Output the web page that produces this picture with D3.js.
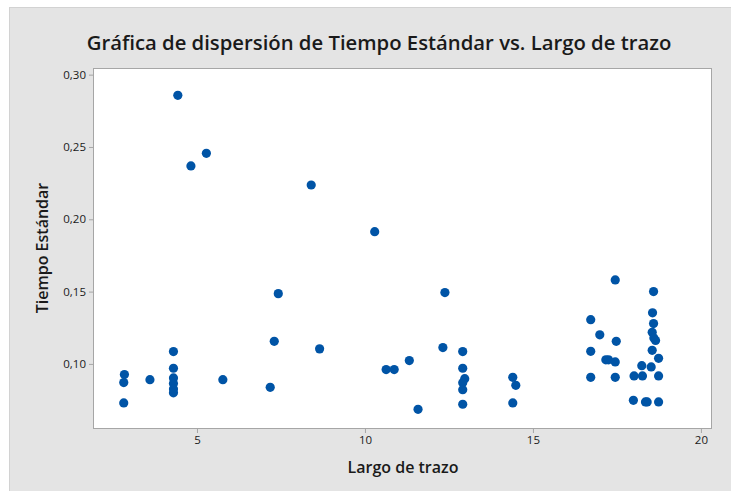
<!DOCTYPE html>
<html>
<head>
<meta charset="utf-8">
<script src="https://cdn.jsdelivr.net/npm/d3@7"></script>
<style>
  body { margin: 0; background: #ffffff; }
  svg { display: block; font-family: "Open Sans", "Noto Sans", sans-serif; }
</style>
</head>
<body>
<svg></svg>
<script>
var screen = {width: 731, height: 491}
var margins = {top: 68, right: 19, bottom: 62, left: 93}

// Largo de trazo (x) and Tiempo Estándar (y)
var largo = [2.84, 2.82, 2.82, 3.60, 4.30, 4.30, 4.30, 4.30, 4.30, 4.30,
             4.43, 4.82, 5.28, 5.77, 7.18, 7.30, 7.42, 8.40, 8.65, 10.29,
             10.63, 10.87, 11.32, 11.58, 12.32, 12.38, 12.91, 12.91, 12.97, 12.91,
             12.91, 12.91, 14.40, 14.49, 14.40,
             16.72, 16.72, 16.72, 16.99, 17.17, 17.25, 17.45, 17.48, 17.45, 17.45,
             17.99, 18.01, 18.24, 18.26, 18.35, 18.40, 18.52, 18.55, 18.56, 18.59,
             18.59, 18.55, 18.60, 18.65, 18.74, 18.74, 18.74]
var tiempo = [0.0926, 0.0871, 0.0730, 0.0891, 0.1085, 0.0970, 0.0903, 0.0864, 0.0827, 0.0800,
              0.2857, 0.2369, 0.2456, 0.0891, 0.0838, 0.1156, 0.1486, 0.2237, 0.1104, 0.1914,
              0.0961, 0.0961, 0.1023, 0.0686, 0.1113, 0.1493, 0.1085, 0.0970, 0.0898, 0.0869,
              0.0822, 0.0721, 0.0907, 0.0852, 0.0730,
              0.1306, 0.1087, 0.0907, 0.1201, 0.1028, 0.1028, 0.1581, 0.1156, 0.1014, 0.0907,
              0.0748, 0.0917, 0.0988, 0.0917, 0.0737, 0.0737, 0.0979, 0.1094, 0.1353, 0.1500,
              0.1279, 0.1219, 0.1180, 0.1162, 0.1039, 0.0917, 0.0737]

var xTicks = [5, 10, 15, 20]
var yTicks = [0.10, 0.15, 0.20, 0.25, 0.30]

var title = "Gráfica de dispersión de Tiempo Estándar vs. Largo de trazo"
var xTitle = "Largo de trazo"
var yTitle = "Tiempo Estándar"

var points = largo.map(function(d, i) { return {x: d, y: tiempo[i]} })

var width = screen.width - margins.left - margins.right
var height = screen.height - margins.top - margins.bottom

var svg = d3.select("svg")
    .attr("width", screen.width)
    .attr("height", screen.height)

// grey panel
svg.append("rect")
    .attr("x", 9.5).attr("y", 7.5)
    .attr("width", screen.width).attr("height", screen.height)
    .attr("fill", "#e4e4e4")
    .attr("stroke", "#d2d2d2")

svg.append("text")
    .attr("x", 379)
    .attr("y", 50)
    .attr("text-anchor", "middle")
    .attr("font-size", 20.3)
    .attr("font-weight", 600)
    .attr("fill", "#1a1a1a")
    .text(title)

var es = d3.formatLocale({decimal: ",", thousands: ".", grouping: [3], currency: ["", "€"]})

var xScale = d3.scaleLinear()
    .domain([1.905, 20.33])
    .range([0, width])
var yScale = d3.scaleLinear()
    .domain([0.055, 0.3046])
    .range([height, 0])

var graph = svg.append("g")
    .attr("id", "graph")
    .attr("transform", "translate(" + margins.left + "," + margins.top + ")")

graph.append("rect")
    .attr("x", 0.5).attr("y", 0.5)
    .attr("width", width - 1).attr("height", height - 1)
    .attr("fill", "#ffffff")
    .attr("stroke", "#a6a6a6")

var xAxis = d3.axisBottom(xScale).tickValues(xTicks).tickSize(4).tickSizeOuter(0)
var yAxis = d3.axisLeft(yScale).tickValues(yTicks).tickSize(4).tickSizeOuter(0)
    .tickFormat(es.format(".2f"))

var gx = graph.append("g")
    .attr("transform", "translate(0," + height + ")")
    .call(xAxis)
var gy = graph.append("g")
    .call(yAxis)

;[gx, gy].forEach(function(g) {
    g.select(".domain").remove()
    g.selectAll("line").attr("stroke", "#a6a6a6")
    g.selectAll("text")
        .attr("font-family", "Open Sans, sans-serif")
        .attr("font-size", 11.5)
        .attr("font-weight", 500)
        .attr("fill", "#1a1a1a")
})

graph.selectAll("circle")
    .data(points)
    .enter()
    .append("circle")
    .attr("cx", function(d) { return xScale(d.x) })
    .attr("cy", function(d) { return yScale(d.y) })
    .attr("r", 4.6)
    .attr("fill", "#0054a6")

svg.append("text")
    .attr("x", 403)
    .attr("y", 473)
    .attr("text-anchor", "middle")
    .attr("font-size", 16)
    .attr("font-weight", 600)
    .attr("fill", "#1a1a1a")
    .text(xTitle)

svg.append("text")
    .attr("transform", "translate(48," + 248 + ") rotate(-90)")
    .attr("text-anchor", "middle")
    .attr("font-size", 16)
    .attr("font-weight", 600)
    .attr("fill", "#1a1a1a")
    .text(yTitle)
</script>
</body>
</html>
